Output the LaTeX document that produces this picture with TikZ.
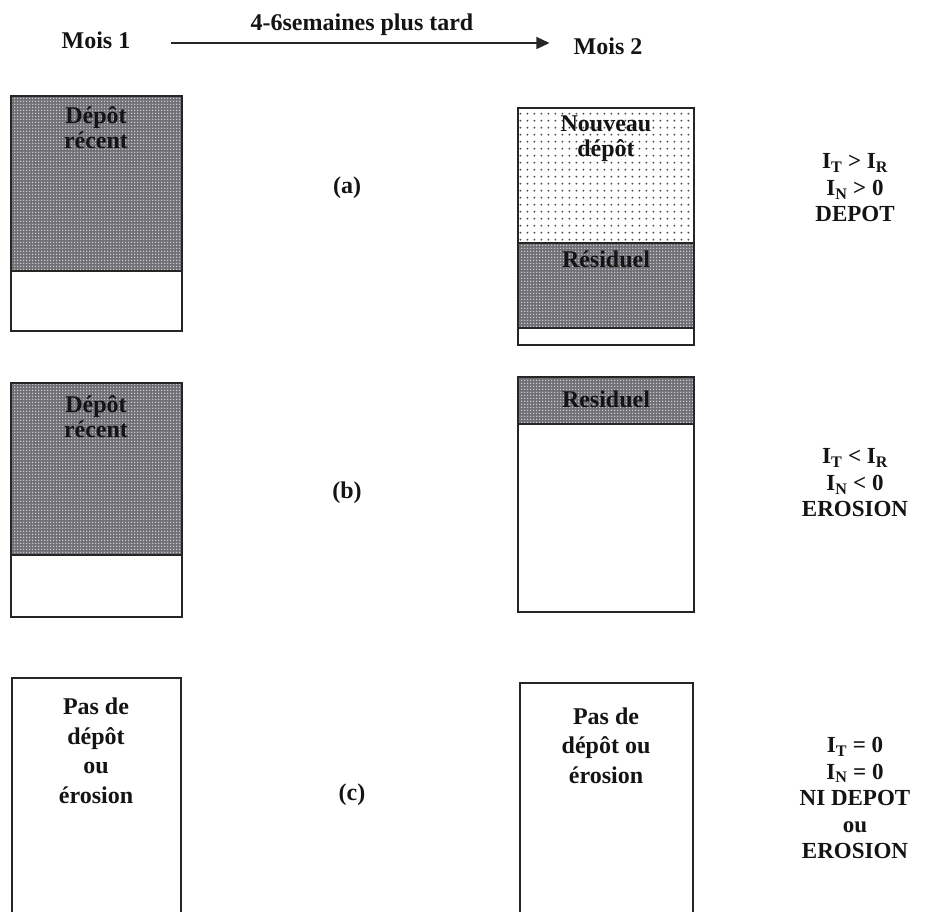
\documentclass[tikz,border=0pt]{standalone}
\usepackage{fontspec}
\setmainfont{Liberation Serif}
\usetikzlibrary{patterns.meta,arrows.meta}
\definecolor{darkgrey}{RGB}{112,112,118}
\definecolor{holewhite}{RGB}{235,235,238}
\tikzdeclarepattern{name=sparsedots, type=uncolored,
  bottom left={(-1.5pt,-1.5pt)}, top right={(5pt,5.5pt)},
  tile size={(6.5pt,7pt)},
  code={\fill (0pt,0pt) circle (1.15pt);}}
\tikzdeclarepattern{name=holes, type=uncolored,
  bottom left={(-1pt,-1pt)}, top right={(2pt,2pt)},
  tile size={(3pt,3pt)},
  code={\fill (0pt,0pt) circle (0.95pt);}}
\tikzset{
  darkzone/.style={fill=darkgrey, postaction={pattern=holes, pattern color=holewhite}},
  lightzone/.style={fill=white, postaction={pattern=sparsedots, pattern color=black!70}},
  boxline/.style={draw=black!85, line width=1.6pt},
  lbl/.style={font=\bfseries\fontsize{24}{25}\selectfont, align=center, inner sep=0pt, text=black!92},
  cond/.style={lbl, font=\bfseries\fontsize{23}{26.5}\selectfont},
  plain/.style={lbl, font=\bfseries\fontsize{24}{29.5}\selectfont},
  arr/.style={-{Triangle[length=13pt,width=12pt]}, line width=1.3pt, black!85},
}
\begin{document}
\begin{tikzpicture}[x=1pt,y=-1pt]
\useasboundingbox (0,0) rectangle (939,911);
\fill[white] (0,0) rectangle (939,911);
% header
\node[lbl] (m1) at (96,40) {Mois 1};
\node[lbl] (m2) at (608,46) {Mois 2};
\node[lbl] (lag) at (362,25) {4-6semaines plus tard};
\draw[arr, shorten <=40pt, shorten >=24pt] ([yshift=-3pt]m1.east) -- ([yshift=-3pt]m1.east -| m2.west);
% ---- row (a)
\fill[darkzone] (11,96) rectangle (182,271);
\draw[boxline] (11,96) rectangle (182,331);
\draw[boxline] (11,271) -- (182,271);
\node[lbl] (al) at (96,128) {Dépôt\\récent};
\fill[lightzone] (518,108) rectangle (694,243);
\fill[darkzone] (518,243) rectangle (694,328);
\draw[boxline] (518,108) rectangle (694,345);
\draw[boxline] (518,243) -- (694,243);
\draw[boxline] (518,328) -- (694,328);
\node[lbl] (ar1) at (606,139) {Nouveau\\dépôt};
\node[lbl] (ar2) at (606,259) {Résiduel};
\node[lbl] (la) at (347,188) {(a)};
\node[cond] (ca) at (855,188) {I\textsubscript{T} > I\textsubscript{R}\\I\textsubscript{N} > 0\\DEPOT};
% ---- row (b)
\fill[darkzone] (11,383) rectangle (182,555);
\draw[boxline] (11,383) rectangle (182,617);
\draw[boxline] (11,555) -- (182,555);
\node[lbl] (bl) at (96,417) {Dépôt\\récent};
\fill[darkzone] (518,377) rectangle (694,424);
\draw[boxline] (518,377) rectangle (694,612);
\draw[boxline] (518,424) -- (694,424);
\node[lbl] (br) at (606,399) {Residuel};
\node[lbl] (lb) at (347,493) {(b)};
\node[cond] (cb) at (855,483) {I\textsubscript{T} < I\textsubscript{R}\\I\textsubscript{N} < 0\\EROSION};
% ---- row (c)
\draw[boxline] (12,912) -- (12,678) -- (181,678) -- (181,912);
\node[plain] (cl) at (96,751) {Pas de\\dépôt\\ou\\érosion};
\draw[boxline] (520,912) -- (520,683) -- (693,683) -- (693,912);
\node[plain] (cr) at (606,745.5) {Pas de\\dépôt ou\\érosion};
\node[lbl] (lc) at (352,795) {(c)};
\node[cond] (cc) at (855,798) {I\textsubscript{T} = 0\\I\textsubscript{N} = 0\\NI DEPOT\\ou\\EROSION};
\end{tikzpicture}
\end{document}
